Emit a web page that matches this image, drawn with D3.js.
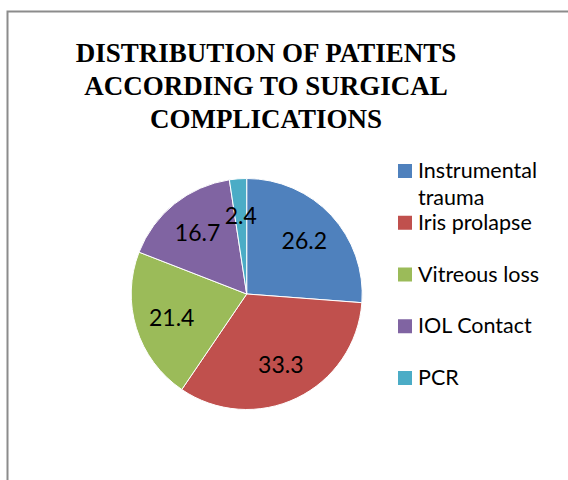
<!DOCTYPE html>
<html>
<head>
<meta charset="utf-8">
<script src="https://cdn.jsdelivr.net/npm/d3@7"></script>
<style>
html,body{margin:0;padding:0;background:#fff;}
svg{display:block;}
</style>
</head>
<body>
<svg id="chart" width="568" height="480"></svg>
<script>
const titleLines = ["DISTRIBUTION OF PATIENTS", "ACCORDING TO SURGICAL", "COMPLICATIONS"];
const categories = ["Instrumental trauma", "Iris prolapse", "Vitreous loss", "IOL Contact", "PCR"];
const legendLines = [["Instrumental", "trauma"], ["Iris prolapse"], ["Vitreous loss"], ["IOL Contact"], ["PCR"]];
const values = [26.2, 33.3, 21.4, 16.7, 2.4];
const colors = ["#4F81BD", "#C0504D", "#9BBB59", "#8064A2", "#4BACC6"];

const svg = d3.select("#chart");

// chart border
svg.append("rect")
  .attr("x", 7.5).attr("y", 11.5)
  .attr("width", 600).attr("height", 500)
  .attr("fill", "#fff")
  .attr("stroke", "#8c8c8c").attr("stroke-width", 2);

// title
const title = svg.append("text")
  .attr("text-anchor", "middle")
  .attr("font-family", "'Liberation Serif', 'Times New Roman', serif")
  .attr("font-weight", "bold")
  .attr("font-size", 27)
  .attr("fill", "#000");
titleLines.forEach((t, i) => {
  title.append("tspan").attr("x", 266).attr("y", 62 + i * 33).text(t);
});

// pie
const cx = 246.7, cy = 294, R = 115.5;
const g = svg.append("g").attr("transform", `translate(${cx},${cy})`);
const pie = d3.pie().sort(null).value(d => d);
const arcs = pie(values);
const arc = d3.arc().innerRadius(0).outerRadius(R);
const labelArc = d3.arc().innerRadius(R * 0.68).outerRadius(R * 0.68);

g.selectAll("path.slice").data(arcs).enter().append("path")
  .attr("class", "slice")
  .attr("d", arc)
  .attr("fill", (d, i) => colors[i])
  .attr("stroke", "#fff")
  .attr("stroke-width", 1);

g.selectAll("text.lbl").data(arcs).enter().append("text")
  .attr("class", "lbl")
  .attr("transform", d => { const c = labelArc.centroid(d); return `translate(${c[0]},${c[1]})`; })
  .attr("text-anchor", "middle")
  .attr("dy", "0.36em")
  .attr("font-family", "Lato, 'Open Sans', sans-serif")
  .attr("font-size", 23)
  .attr("fill", "#000")
  .text(d => d.data.toFixed(1));

// legend
const legendY = d3.scalePoint().domain(categories).range([178, 385]);
const lg = svg.append("g");
categories.forEach((c, i) => {
  const y = legendY(c);
  lg.append("rect")
    .attr("x", 398).attr("y", y - 14)
    .attr("width", 14).attr("height", 14)
    .attr("fill", colors[i]);
  const t = lg.append("text")
    .attr("font-family", "Lato, 'Open Sans', sans-serif")
    .attr("font-size", 21.5)
    .attr("fill", "#000");
  legendLines[i].forEach((l, j) => {
    t.append("tspan").attr("x", 418).attr("y", y + j * 27).text(l);
  });
});
</script>
</body>
</html>
